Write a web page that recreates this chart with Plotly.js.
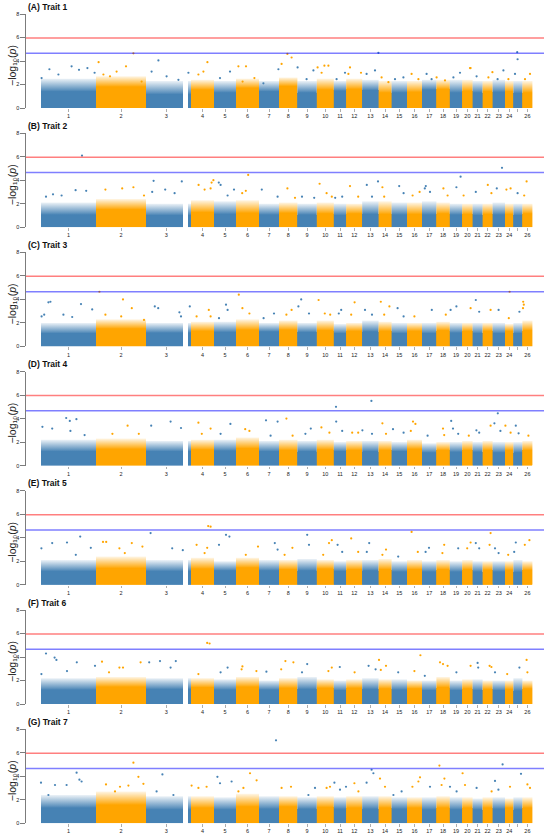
<!DOCTYPE html>
<html>
<head>
<meta charset="utf-8">
<script src="https://cdn.plot.ly/plotly-3.0.1.min.js"></script>
<style>
html,body{margin:0;padding:0;background:#ffffff;}
#chart{width:550px;height:839px;}
</style>
</head>
<body>
<div id="chart"></div>
<script>
// ---------------- data ----------------
const chromosomes = ['1','2','3','4','5','6','7','8','9','10','11','12','13','14','15','16','17','18','19','20','21','22','23','24','25','26'];
const chromLengthMb = [275,250,225,115,110,115,100,92,97,85,62,80,82,65,77,75,72,67,62,52,50,50,62,42,45,50];
const chromGapMb = {'3': [185, 210]};          // stretch without markers
const hiddenTickLabels = ['25'];
const traitTitles = ['(A) Trait 1','(B) Trait 2','(C) Trait 3','(D) Trait 4','(E) Trait 5','(F) Trait 6','(G) Trait 7'];
const genomeWideThreshold = 5.96;   // -log10(p), red line
const suggestiveThreshold = 4.66;   // -log10(p), blue line

// dense band of markers: solid part top and speckled part top (-log10 p) per chromosome
const bandCoreA  = [1.40,1.80,1.15,1.55,1.30,1.70,1.40,1.85,1.30,1.55,1.45,1.60,1.50,1.30,1.30,1.35,1.55,1.60,1.30,1.45,1.30,1.40,1.35,1.40,1.25,1.30];
const bandSpeckA = [2.50,2.70,2.30,2.40,2.30,2.50,2.30,2.60,2.30,2.50,2.30,2.50,2.40,2.30,2.30,2.30,2.40,2.40,2.40,2.40,2.30,2.30,2.40,2.30,2.30,2.30];
const bandCoreB  = [1.05,1.50,1.00,1.25,1.10,1.20,1.05,1.20,1.05,1.15,1.00,1.15,1.10,1.10,1.05,1.10,1.05,1.15,1.05,1.10,1.00,1.10,1.05,1.10,1.00,1.15];
const bandSpeckB = [2.10,2.40,2.00,2.30,2.20,2.30,2.00,2.10,2.00,2.10,2.00,2.00,2.20,2.20,2.10,2.10,2.20,2.10,2.00,2.00,2.00,2.00,2.10,2.00,2.00,2.00];
const bandCoreC  = [1.10,1.50,1.15,1.30,1.20,1.40,1.25,1.40,1.20,1.35,1.10,1.30,1.25,1.30,1.10,1.30,1.10,1.35,1.15,1.30,1.10,1.30,1.10,1.30,1.10,1.35];
const bandSpeckC = [2.00,2.30,2.00,2.10,2.10,2.30,2.00,2.20,2.00,2.20,1.90,2.00,2.20,2.10,2.00,2.00,2.00,2.10,2.00,2.00,2.00,2.00,2.00,1.90,2.00,2.20];
const bandCoreD  = [1.20,1.40,1.20,1.35,1.25,1.45,1.20,1.30,1.20,1.35,1.20,1.30,1.20,1.30,1.20,1.40,1.10,1.30,1.15,1.30,1.15,1.30,1.10,1.30,1.10,1.30];
const bandSpeckD = [2.20,2.30,2.10,2.20,2.20,2.40,2.10,2.20,2.10,2.20,2.00,2.10,2.10,2.10,2.00,2.20,1.90,2.00,2.00,2.10,2.00,2.10,2.00,2.00,2.00,2.10];
const bandCoreE  = [1.15,1.40,1.15,1.35,1.20,1.45,1.20,1.30,1.20,1.35,1.15,1.30,1.20,1.30,1.10,1.30,1.10,1.30,1.10,1.30,1.10,1.25,1.10,1.25,1.05,1.25];
const bandSpeckE = [2.10,2.40,2.10,2.30,2.00,2.30,2.10,2.10,2.20,2.10,2.00,2.10,2.10,2.20,2.00,2.10,2.00,2.10,2.00,2.10,2.00,2.00,2.00,2.00,2.10,2.00];
const bandCoreF  = [1.20,1.45,1.25,1.40,1.20,1.45,1.20,1.35,1.25,1.35,1.15,1.35,1.25,1.30,1.20,1.30,1.15,1.40,1.15,1.30,1.15,1.25,1.15,1.25,1.10,1.30];
const bandSpeckF = [2.20,2.30,2.20,2.20,2.10,2.30,2.00,2.20,2.30,2.10,2.00,2.10,2.20,2.10,2.10,2.00,2.00,2.30,2.00,2.10,2.10,2.00,2.00,2.00,2.20,2.00];
const bandCoreG  = [1.30,1.55,1.15,1.30,1.15,1.40,1.20,1.40,1.20,1.35,1.20,1.30,1.20,1.30,1.20,1.30,1.15,1.30,1.15,1.30,1.15,1.30,1.20,1.30,1.15,1.30];
const bandSpeckG = [2.40,2.70,2.30,2.30,2.20,2.50,2.30,2.30,2.20,2.30,2.20,2.30,2.30,2.30,2.20,2.20,2.20,2.30,2.20,2.20,2.10,2.20,2.20,2.10,2.20,2.20];

// individual markers above the band: [chromosome, position (Mb), -log10(p)]
const topMarkersA = [[1,42,3.3],[1,153,3.55],[1,190,3.25],[1,232,3.4],[1,3,2.55],[1,87,2.85],[1,268,3.0],
 [2,13,3.9],[2,187,4.65],[2,150,3.55],[2,103,3.1],[2,70,2.7],[2,228,2.25],[2,37,2.85],
 [3,62,4.05],[3,28,3.1],[3,103,2.7],[3,162,2.4],[3,212,3.0],[4,82,3.9],[4,37,2.85],[4,62,3.1],
 [5,30,2.55],[5,80,3.1],[6,12,3.55],[6,50,3.55],[6,33,2.25],[6,92,2.55],[7,22,2.1],[7,97,3.3],
 [8,13,3.75],[8,42,4.6],[8,63,4.3],[9,1,3.45],[9,46,2.45],[9,80,3.2],
 [10,4,3.45],[10,38,3.6],[10,58,3.6],[10,24,3.0],[11,14,2.45],[11,56,3.0],
 [12,19,3.45],[12,11,2.9],[12,74,3.0],[13,81,4.7],[13,22,2.9],[13,64,3.2],[14,49,2.2],[14,15,2.6],
 [15,59,2.6],[15,17,2.45],[16,23,2.9],[16,57,2.45],[17,23,2.9],[17,48,2.45],[18,1,2.6],[18,43,2.35],
 [19,18,2.6],[19,51,3.0],[20,39,3.4],[20,42,3.4],[21,20,2.7],[22,29,2.6],[22,49,3.05],
 [23,54,3.2],[23,25,2.45],[24,17,2.45],[25,19,4.75],[25,21,4.15],[25,8,2.9],[26,38,2.9],[26,13,2.45]];
const topMarkersB = [[1,205,6.1],[1,226,3.1],[1,103,2.7],[1,173,3.15],[1,25,2.6],[1,60,2.8],
 [2,131,3.3],[2,187,3.4],[2,47,3.2],[2,240,2.7],[3,38,3.95],[3,31,3.0],[3,96,3.2],[3,143,2.9],[3,179,3.9],
 [4,38,3.6],[4,68,3.2],[4,98,3.3],[4,112,4.0],[4,103,3.8],[5,24,3.8],[5,33,3.6],[5,68,2.7],[5,100,3.2],
 [6,61,4.45],[6,49,3.1],[6,31,2.9],[7,14,3.2],[7,93,2.6],[8,42,3.3],[8,80,2.5],[9,23,2.6],[9,84,2.5],
 [10,14,3.7],[10,49,2.9],[10,75,2.6],[11,7,2.5],[11,42,2.6],[12,19,3.5],[12,60,2.6],
 [13,23,3.6],[13,49,2.6],[13,79,3.9],[14,19,3.4],[14,28,2.6],[15,38,3.5],[15,60,2.9],
 [16,28,2.7],[16,63,3.0],[17,14,3.3],[17,19,3.5],[17,40,3.0],[18,35,3.3],[18,56,2.7],
 [19,54,4.3],[19,33,3.4],[20,7,2.7],[21,16,3.0],[22,26,3.6],[22,44,2.9],[23,47,5.05],[23,21,3.3],
 [24,7,3.2],[24,28,3.3],[25,21,2.9],[26,21,3.9],[26,9,2.7]];
const topMarkersC = [[1,37,3.75],[1,47,3.8],[1,3,2.55],[1,16,2.7],[1,200,3.6],[1,256,3.15],[1,112,2.7],[1,156,2.5],
 [2,17,4.65],[2,135,4.0],[2,179,3.25],[2,126,2.55],[2,47,2.7],[2,240,2.25],
 [3,44,3.4],[3,61,3.25],[3,167,2.9],[3,175,2.55],[3,219,3.4],[4,28,2.55],[4,89,3.1],[4,98,2.55],
 [5,60,3.55],[5,68,3.1],[5,25,2.4],[6,14,4.4],[6,32,3.25],[6,67,2.8],[7,75,2.8],[7,23,2.4],
 [8,63,3.1],[8,37,2.7],[9,19,4.0],[9,5,3.4],[9,58,2.8],[10,9,3.95],[10,40,2.8],[10,67,2.7],
 [11,37,3.1],[11,25,2.8],[12,42,3.75],[12,25,2.7],[13,14,3.1],[13,49,2.7],
 [14,11,3.8],[14,54,3.4],[14,28,2.7],[15,30,3.25],[15,60,2.55],[16,37,2.55],[17,49,3.1],[18,47,2.7],
 [19,4,3.1],[19,33,3.4],[20,42,3.25],[21,16,3.95],[21,33,2.95],[22,40,3.1],[23,30,3.1],
 [24,23,4.65],[24,19,2.4],[25,30,2.95],[26,4,3.8],[26,7,3.55],[26,3,3.25]];
const topMarkersD = [[1,126,4.05],[1,144,3.8],[1,177,3.95],[1,7,3.3],[1,56,3.15],[1,147,2.95],[1,218,2.6],
 [2,158,3.4],[2,82,2.7],[2,214,2.7],[3,26,3.4],[3,123,3.75],[3,175,3.2],[4,37,3.65],[4,98,3.15],[4,54,2.7],
 [5,82,3.55],[5,33,2.7],[6,46,3.1],[6,67,2.95],[7,35,3.85],[7,93,3.75],[7,58,2.55],[8,37,4.0],[8,68,2.55],
 [9,67,3.15],[9,40,2.7],[10,23,3.25],[10,63,2.8],[11,11,5.0],[11,12,3.75],[11,42,2.95],
 [12,30,2.8],[12,60,2.8],[13,46,5.5],[13,1,3.0],[13,49,2.7],[14,19,3.6],[14,37,2.7],
 [15,7,3.1],[15,60,2.8],[16,30,3.75],[16,42,3.55],[16,19,2.95],[17,28,2.55],[18,33,3.15],[18,39,2.6],
 [19,7,3.8],[19,16,3.15],[19,42,2.7],[20,33,2.55],[21,19,3.0],[21,33,2.8],[22,40,3.4],
 [23,26,4.45],[23,9,3.6],[23,39,2.95],[24,2,3.4],[24,28,2.8],[25,12,3.4],[25,26,2.75],[26,30,2.55]];
const topMarkersE = [[1,2,3.1],[1,56,3.55],[1,130,3.6],[1,196,4.1],[1,249,3.15],[1,174,2.55],
 [2,35,3.65],[2,51,3.65],[2,117,3.1],[2,179,3.55],[2,232,3.25],[2,144,2.7],[3,23,4.4],[3,131,3.1],[3,184,2.95],
 [4,86,5.0],[4,98,4.95],[4,28,3.4],[4,81,3.15],[4,68,2.7],[5,60,4.25],[5,77,4.1],[5,25,3.4],
 [6,110,3.25],[6,49,2.55],[7,79,3.55],[7,93,3.0],[8,67,3.15],[8,28,2.55],[9,49,4.25],[9,58,3.4],
 [10,75,3.8],[10,61,3.55],[10,32,2.55],[11,19,3.4],[11,42,2.8],[12,25,3.95],[12,60,2.8],
 [13,35,3.55],[13,23,2.8],[14,37,3.0],[14,19,2.55],[15,33,2.4],[16,23,4.5],[16,54,2.8],
 [17,35,3.15],[17,18,2.8],[18,39,3.4],[18,30,2.7],[19,42,3.1],[20,42,3.6],[20,25,3.1],
 [21,16,3.55],[21,33,3.1],[22,40,4.4],[22,35,3.4],[23,12,3.1],[23,30,2.7],[24,16,2.55],
 [25,4,2.8],[25,12,3.6],[26,35,3.8],[26,12,3.4]];
const topMarkersF = [[1,25,4.3],[1,68,3.95],[1,77,3.75],[1,179,3.55],[1,270,3.25],[1,130,2.8],[1,2,2.55],
 [2,30,3.6],[2,117,3.1],[2,135,3.1],[2,223,3.55],[2,65,2.7],[3,16,3.55],[3,70,3.65],[3,149,3.65],[3,123,3.1],
 [4,81,5.2],[4,93,5.15],[4,37,2.55],[5,68,3.1],[5,33,2.7],[6,32,3.2],[6,28,2.95],[6,102,2.8],[7,37,2.75],
 [8,32,3.65],[8,72,3.55],[8,11,2.95],[9,49,3.4],[9,23,2.7],[10,58,2.8],[10,75,3.1],[11,30,3.15],[12,42,2.7],
 [13,32,3.25],[13,67,2.95],[14,2,3.75],[14,37,3.25],[14,11,2.9],[15,33,2.7],[16,67,4.15],[16,37,2.8],
 [17,14,2.4],[18,18,3.55],[18,33,3.4],[18,56,3.25],[19,33,2.7],[20,42,3.25],[21,25,3.5],[21,28,3.1],
 [22,35,3.25],[22,44,3.15],[23,12,2.7],[24,11,2.55],[25,30,3.1],[26,21,3.75],[26,25,2.7]];
const topMarkersG = [[1,0,3.45],[1,178,4.3],[1,70,3.25],[1,192,3.7],[1,203,3.55],[1,128,3.25],[1,37,2.4],
 [2,187,5.15],[2,50,3.3],[2,120,3.1],[2,162,3.2],[2,212,3.95],[2,237,3.35],[2,95,2.7],
 [3,82,4.15],[3,53,2.7],[3,137,2.4],[4,3,3.2],[4,37,3.0],[4,78,3.1],[5,17,3.95],[5,30,3.4],[5,88,3.55],
 [6,70,4.25],[6,103,3.65],[6,37,3.0],[6,12,2.7],[7,85,7.05],[8,13,3.0],[8,60,3.1],[9,88,3.0],[9,55,2.4],
 [10,49,3.0],[10,66,3.1],[11,3,3.45],[11,31,2.85],[11,61,3.1],[12,41,3.4],[12,61,2.7],
 [13,47,4.55],[13,56,4.25],[13,22,3.45],[14,7,3.8],[14,32,3.1],[15,9,2.4],[15,50,2.7],
 [16,65,3.9],[16,57,3.55],[16,27,3.1],[17,40,3.1],[18,15,4.9],[18,40,3.8],[18,26,3.25],
 [19,1,3.1],[19,34,2.7],[20,2,4.25],[20,14,3.25],[21,20,3.0],[22,45,2.7],
 [23,12,3.6],[23,50,5.0],[23,29,2.85],[24,25,3.1],[25,38,4.2],[26,25,3.3],[26,38,3.0]];

const bandCores  = [bandCoreA,bandCoreB,bandCoreC,bandCoreD,bandCoreE,bandCoreF,bandCoreG];
const bandSpecks = [bandSpeckA,bandSpeckB,bandSpeckC,bandSpeckD,bandSpeckE,bandSpeckF,bandSpeckG];
const topMarkers = [topMarkersA,topMarkersB,topMarkersC,topMarkersD,topMarkersE,topMarkersF,topMarkersG];

// ---------------- styles ----------------
const chromRGB = [[70,130,180], [255,165,0]];   // steelblue / orange, alternating by chromosome
const rgba = (c, a) => 'rgba(' + c[0] + ',' + c[1] + ',' + c[2] + ',' + a + ')';
const FONT = 'Liberation Sans, Arial, Helvetica, sans-serif';
const W = 550, H = 839, ML = 26, MR = 6;
const PW = W - ML - MR;
const panelTop0 = 14, panelBottom0 = 108, panelStep = 119.2;

// ---------------- build ----------------
const chromStart = [];
let acc = 0;
chromLengthMb.forEach(L => { chromStart.push(acc); acc += L; });
function segmentsOf(i) {
  const g = chromGapMb[chromosomes[i]];
  const L = chromLengthMb[i];
  return g ? [[0, g[0]], [g[1], L]] : [[0, L]];
}
const tickPos = chromosomes.map((c, i) => {
  let s = 0, w = 0;
  segmentsOf(i).forEach(([a, b]) => { s += (b - a) * (a + b) / 2; w += (b - a); });
  return chromStart[i] + s / w;
});
const shownIdx = chromosomes.map((c, i) => i).filter(i => !hiddenTickLabels.includes(chromosomes[i]));
const hiddenIdx = chromosomes.map((c, i) => i).filter(i => hiddenTickLabels.includes(chromosomes[i]));

const traces = [], layout = {
  width: W, height: H, margin: {l: ML, r: MR, t: 0, b: 0},
  paper_bgcolor: '#ffffff', plot_bgcolor: '#ffffff',
  showlegend: false, barmode: 'overlay', bargap: 0,
  font: {family: FONT, color: '#222'},
  shapes: [], annotations: []
};

traitTitles.forEach((title, k) => {
  const s = k === 0 ? '' : String(k + 1);
  const xa = 'x' + s, ya = 'y' + s;
  const core = bandCores[k], speck = bandSpecks[k];

  // solid lower part of the dense band
  for (let par = 0; par < 2; par++) {
    const bx = [], bw = [], by = [];
    chromosomes.forEach((c, i) => {
      if (i % 2 !== par) return;
      segmentsOf(i).forEach(([a, b]) => {
        bx.push(chromStart[i] + (a + b) / 2);
        bw.push(b - a);
        by.push(core[i]);
      });
    });
    traces.push({type: 'bar', x: bx, y: by, width: bw, base: 0, xaxis: xa, yaxis: ya,
      marker: {color: rgba(chromRGB[par], 1), line: {width: 0}}, hoverinfo: 'skip'});
  }
  // speckled (fading) upper part, one gradient polygon per chromosome segment
  chromosomes.forEach((c, i) => {
    const col = chromRGB[i % 2];
    segmentsOf(i).forEach(([a, b]) => {
      const x0 = chromStart[i] + a, x1 = chromStart[i] + b;
      traces.push({type: 'scatter', mode: 'lines', xaxis: xa, yaxis: ya,
        x: [x0, x1, x1, x0, x0], y: [0, 0, speck[i], speck[i], 0],
        fill: 'toself', line: {width: 0}, fillcolor: rgba(col, 0.5),
        fillgradient: {type: 'vertical', start: core[i], stop: speck[i],
          colorscale: [[0, rgba(col, 1)], [0.15, rgba(col, 0.85)], [0.55, rgba(col, 0.5)], [1, rgba(col, 0.1)]]},
        hoverinfo: 'skip'});
    });
  });
  for (let par = 0; par < 2; par++) {
    const px = [], py = [];
    topMarkers[k].forEach(([chr, pos, val]) => {
      const i = chr - 1;
      if (i % 2 !== par) return;
      px.push(chromStart[i] + pos);
      py.push(val);
    });
    traces.push({type: 'scatter', mode: 'markers', x: px, y: py, xaxis: xa, yaxis: ya,
      marker: {color: rgba(chromRGB[par], 1), size: 2.2, line: {width: 0}}, cliponaxis: false, hoverinfo: 'skip'});
  }

  const topPx = panelTop0 + panelStep * k, botPx = panelBottom0 + panelStep * k;
  layout['xaxis' + s] = {
    domain: [0, 1], anchor: ya, range: [-75, 2515],
    tickmode: 'array', tickvals: shownIdx.map(i => tickPos[i]), ticktext: shownIdx.map(i => chromosomes[i]),
    tickangle: 0, ticks: 'outside', ticklen: 2.5, tickwidth: 0.6, tickcolor: '#777',
    tickfont: {size: 5.5, color: '#222', family: FONT},
    minor: {tickmode: 'array', tickvals: hiddenIdx.map(i => tickPos[i]), ticks: 'outside',
      ticklen: 2.5, tickwidth: 0.6, tickcolor: '#777', showgrid: false},
    showgrid: false, zeroline: false, showline: false, fixedrange: true
  };
  layout['yaxis' + s] = {
    domain: [1 - botPx / H, 1 - topPx / H], anchor: xa, range: [0, 8],
    tickmode: 'array', tickvals: [0, 2, 4, 6, 8],
    ticks: 'outside', ticklen: 5, tickwidth: 0.7, tickcolor: '#444',
    showline: true, linecolor: '#444', linewidth: 0.7,
    tickfont: {size: 5.5, color: '#222', family: FONT},
    showgrid: false, zeroline: false, fixedrange: true
  };
  layout.shapes.push({type: 'line', xref: xa + ' domain', x0: 0, x1: 1, yref: ya,
    y0: genomeWideThreshold, y1: genomeWideThreshold, line: {color: 'rgba(255,0,0,0.5)', width: 1.5}});
  layout.shapes.push({type: 'line', xref: xa + ' domain', x0: 0, x1: 1, yref: ya,
    y0: suggestiveThreshold, y1: suggestiveThreshold, line: {color: 'rgba(0,0,255,0.5)', width: 1.5}});
  layout.annotations.push({text: '<b>' + title + '</b>', xref: 'paper', yref: 'paper',
    x: 0, y: 1 - (topPx - 7.5) / H, xanchor: 'left', yanchor: 'middle', showarrow: false,
    font: {size: 8.5, color: '#111', family: FONT}});
  layout.annotations.push({text: '\u2212log\u2081\u2080(<i>p</i>)', xref: 'paper', yref: 'paper',
    x: (12 - ML) / PW, y: 1 - (topPx + 52) / H, xanchor: 'center', yanchor: 'middle', textangle: -90,
    showarrow: false, font: {size: 10.5, color: '#222', family: FONT}});
});

Plotly.newPlot('chart', traces, layout, {staticPlot: true, displayModeBar: false});
</script>
</body>
</html>
